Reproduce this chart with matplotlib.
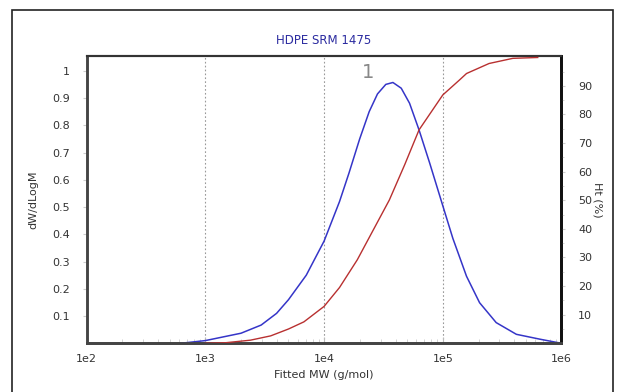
import matplotlib
matplotlib.use("Agg")
import matplotlib.pyplot as plt
from matplotlib.patches import Rectangle
from matplotlib.ticker import FixedLocator, NullFormatter

# dW/dLogM curve (blue)
mw_dist = [617, 1000, 1995, 2951, 3981, 5012, 7079, 10000, 13490, 16220,
           19950, 23990, 28180, 33110, 38020, 44670, 52480, 63100, 77620,
           100000, 121600, 158500, 204200, 281800, 416900, 660700, 1000000]
dwdlogm = [0.0, 0.01, 0.037, 0.067, 0.11, 0.16, 0.25, 0.375, 0.52, 0.625,
           0.75, 0.85, 0.915, 0.95, 0.957, 0.936, 0.881, 0.783, 0.661,
           0.505, 0.385, 0.246, 0.149, 0.076, 0.033, 0.015, 0.0]

# cumulative curve Ht (%) (red)
mw_cum = [1000, 1479, 2399, 3548, 5012, 6761, 10000, 13490, 19050, 25120,
          35480, 47860, 63100, 100000, 138000, 158500, 245500, 389000, 631000]
ht_pct = [0.0, 0.2, 1.1, 2.6, 5.0, 7.5, 12.9, 19.5, 29.2, 38.5,
          50.1, 62.5, 74.6, 86.8, 92.0, 94.3, 97.8, 99.6, 99.9]

x_ticks = [1e2, 1e3, 1e4, 1e5, 1e6]
x_labels = ["1e2", "1e3", "1e4", "1e5", "1e6"]
left_ticks = [0.1, 0.2, 0.3, 0.4, 0.5, 0.6, 0.7, 0.8, 0.9, 1.0]
left_labels = ["0.1", "0.2", "0.3", "0.4", "0.5", "0.6", "0.7", "0.8", "0.9", "1"]
right_ticks = [10, 20, 30, 40, 50, 60, 70, 80, 90]

plt.rcParams["font.family"] = "DejaVu Sans"
text_col = "#333333"

fig = plt.figure(figsize=(6.17, 3.92), dpi=100)
ax = fig.add_axes([0.1405, 0.1242, 0.7695, 0.7328])
ax2 = ax.twinx()

# outer frame of the picture
fig.patches.append(Rectangle((12 / 617, -0.05), 601 / 617, 1.0245,
                             transform=fig.transFigure, fill=False,
                             edgecolor="#222222", linewidth=1.2))

ax.set_xscale("log")
ax.set_xlim(1e2, 1e6)
ax.set_ylim(0, 1.054)
ax2.set_ylim(0, 100.4)

ax.plot(mw_dist, dwdlogm, color="#3535c8", linewidth=1.1, zorder=3)
ax2.plot(mw_cum, ht_pct, color="#b83030", linewidth=1.0, zorder=3)

ax.xaxis.set_major_locator(FixedLocator(x_ticks))
ax.set_xticklabels(x_labels)
minors = [m * 10 ** e for e in range(2, 6) for m in range(2, 10)]
ax.xaxis.set_minor_locator(FixedLocator(minors))
ax.xaxis.set_minor_formatter(NullFormatter())
ax.grid(True, which="major", axis="x", color="#999999", linestyle=(0, (1.5, 2)),
        linewidth=0.8)

ax.set_yticks(left_ticks)
ax.set_yticklabels(left_labels)
ax2.set_yticks(right_ticks)
ax2.yaxis.set_minor_locator(FixedLocator([5, 15, 25, 35, 45, 55, 65, 75, 85, 95]))

ax.tick_params(axis="x", which="major", direction="in", length=4, color="#bbbbbb",
               labelsize=8, labelcolor=text_col, pad=8)
ax.tick_params(axis="x", which="minor", direction="in", length=3, color="#cccccc")
ax.tick_params(axis="y", which="major", direction="out", length=3, color="#cccccc",
               labelsize=8, labelcolor=text_col, pad=9)
ax2.tick_params(axis="y", which="major", direction="out", length=3, color="#cccccc",
                labelsize=8, labelcolor=text_col, pad=9)
ax2.tick_params(axis="y", which="minor", direction="out", length=2, color="#cccccc")

for a in (ax, ax2):
    a.spines["left"].set_color("#444444")
    a.spines["left"].set_linewidth(1.8)
    a.spines["bottom"].set_color("#444444")
    a.spines["bottom"].set_linewidth(2.0)
    a.spines["top"].set_color("#333333")
    a.spines["top"].set_linewidth(1.5)
    a.spines["right"].set_color("#111111")
    a.spines["right"].set_linewidth(2.0)

ax.set_title("HDPE SRM 1475", fontsize=8.5, color="#2b2ba0", pad=9)
ax.set_xlabel("Fitted MW (g/mol)", fontsize=8, color=text_col, labelpad=4)
ax.set_ylabel("dW/dLogM", fontsize=8, color=text_col, labelpad=10)
ax2.set_ylabel("Ht (%)", fontsize=8, color=text_col, rotation=-90, va="center")
ax2.yaxis.set_label_coords(1.075, 0.5)

ax.text(2.34e4, 0.995, "1", fontsize=14, color="#888888", ha="center", va="center")

fig.savefig("out.png", dpi=100)
